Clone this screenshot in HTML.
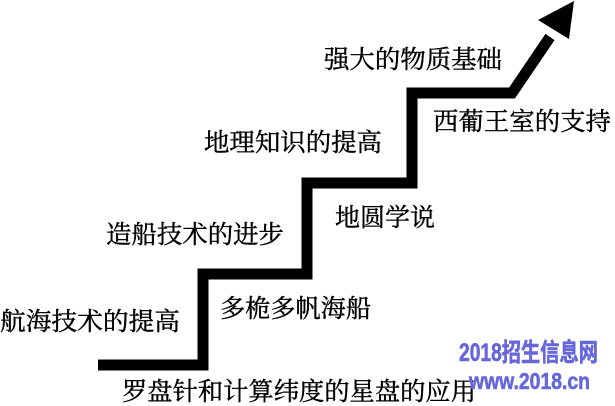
<!DOCTYPE html>
<html><head><meta charset="utf-8"><style>
html,body{margin:0;padding:0;background:#fff;width:615px;height:406px;overflow:hidden}
svg{display:block}
.t{font-family:"Noto Serif CJK SC","WenQuanYi Zen Hei",serif;font-size:25px;fill:#000;stroke:#000;stroke-width:0.4}
.w{font-family:"Liberation Sans","Noto Sans CJK SC",sans-serif;font-weight:bold;fill:#6767dc;stroke:#6767dc;stroke-width:0.6}
</style></head><body>
<svg width="615" height="406" viewBox="0 0 615 406" xmlns="http://www.w3.org/2000/svg">
<path d="M98 365 H203 V274 H307 V183 H412 V93 H512 L550 37" fill="none" stroke="#000" stroke-width="11" stroke-linejoin="miter"/>
<polygon points="574,1 538,20 569,39" fill="#000"/>
<text class="t" x="324" y="68" textLength="178" lengthAdjust="spacingAndGlyphs">强大的物质基础</text>
<text class="t" x="433" y="130" textLength="178" lengthAdjust="spacingAndGlyphs">西葡王室的支持</text>
<text class="t" x="204" y="151" textLength="178" lengthAdjust="spacingAndGlyphs">地理知识的提高</text>
<text class="t" x="335" y="226" textLength="100" lengthAdjust="spacingAndGlyphs">地圆学说</text>
<text class="t" x="106" y="243" textLength="178" lengthAdjust="spacingAndGlyphs">造船技术的进步</text>
<text class="t" x="220" y="317" textLength="151" lengthAdjust="spacingAndGlyphs">多桅多帆海船</text>
<text class="t" x="0" y="330" textLength="180" lengthAdjust="spacingAndGlyphs">航海技术的提高</text>
<text class="t" x="122" y="400" textLength="354" lengthAdjust="spacingAndGlyphs">罗盘针和计算纬度的星盘的应用</text>
<text class="w" x="459" y="361" font-size="25" textLength="139" lengthAdjust="spacingAndGlyphs">2018招生信息网</text>
<text class="w" x="469" y="389" font-size="23" textLength="121" lengthAdjust="spacingAndGlyphs">www.2018.cn</text>
</svg>
</body></html>
